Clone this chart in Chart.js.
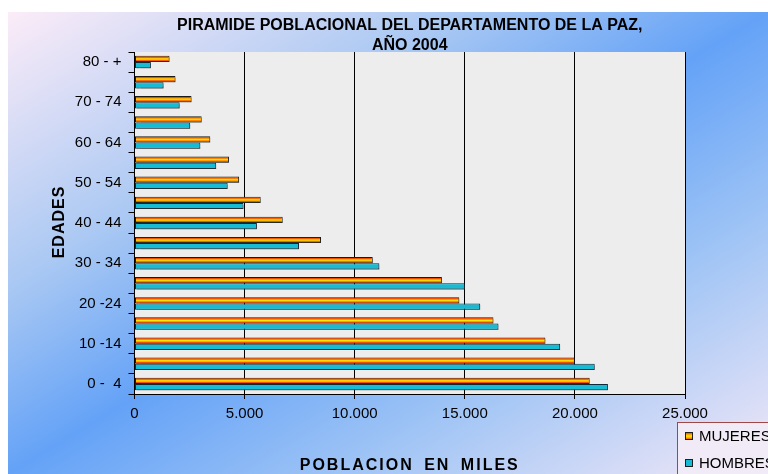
<!DOCTYPE html>
<html>
<head>
<meta charset="utf-8">
<script src="https://cdn.jsdelivr.net/npm/chart.js@4/dist/chart.umd.min.js"></script>
<style>
html,body{margin:0;padding:0;background:#fff;}
canvas{display:block;}
</style>
</head>
<body>
<canvas id="c" width="768" height="474"></canvas>
<script>
// Age groups, youngest first
const categories = ['0 -  4','5 - 9','10 -14','15 - 19','20 -24','25 - 29','30 - 34','35 - 39','40 - 44','45 - 49','50 - 54','55 - 59','60 - 64','65 - 69','70 - 74','75 - 79','80 - +'];
const mujeres = [20670, 19990, 18660, 16300, 14750, 13960, 10820, 8470, 6730, 5730, 4750, 4290, 3440, 3050, 2590, 1860, 1590];
const hombres = [21500, 20900, 19330, 16530, 15700, 15000, 11120, 7470, 5560, 4950, 4230, 3710, 2990, 2530, 2050, 1320, 745];
const seriesNames = ['MUJERES', 'HOMBRES'];
const titleLines = ['PIRAMIDE POBLACIONAL DEL DEPARTAMENTO DE LA PAZ,', 'AÑO 2004'];
const xTitle = 'POBLACION EN MILES';
const yTitle = 'EDADES';
const xMax = 25000, xStep = 5000;

const FONT = "'Liberation Sans', Arial, sans-serif";
const W = 768, H = 474;

// top-to-bottom order for the category axis
const labelsTB = categories.slice().reverse();
const mujTB = mujeres.slice().reverse();
const homTB = hombres.slice().reverse();

function fireGradient(ctx, top, h) {
  const g = ctx.createLinearGradient(0, top, 0, top + h);
  g.addColorStop(0, '#e81800');
  g.addColorStop(0.3, '#ff9a00');
  g.addColorStop(0.5, '#ffee00');
  g.addColorStop(0.75, '#ff9a00');
  g.addColorStop(1, '#e81800');
  return g;
}

const bgPlugin = {
  id: 'bg',
  beforeDraw(chart) {
    const ctx = chart.ctx;
    ctx.save();
    ctx.fillStyle = '#ffffff';
    ctx.fillRect(0, 0, W, H);
    const x0 = 8, y0 = 12, x1 = W, y1 = H;
    const cx = (x0 + x1) / 2, cy = (y0 + y1) / 2;
    const w = x1 - x0, h = y1 - y0;
    const n = Math.hypot(w, h);
    const ux = h / n, uy = w / n;
    const half = (w / 2 * ux + h / 2 * uy);
    const g = ctx.createLinearGradient(cx - ux * half, cy - uy * half, cx + ux * half, cy + uy * half);
    g.addColorStop(0, '#fcecf8');
    g.addColorStop(0.3, '#a9c8f3');
    g.addColorStop(0.5, '#64a2f7');
    g.addColorStop(0.72, '#9fc4f5');
    g.addColorStop(1, '#f2e8f7');
    ctx.fillStyle = g;
    ctx.fillRect(x0, y0, w, h);
    const a = chart.chartArea;
    ctx.fillStyle = '#ededed';
    ctx.fillRect(a.left, a.top, a.right - a.left, a.bottom - a.top);
    ctx.restore();
  },
  beforeDatasetsDraw(chart) {
    const ctx = chart.ctx;
    ctx.save();
    ctx.shadowColor = 'rgba(60,60,60,0.45)';
    ctx.shadowOffsetX = 2;
    ctx.shadowOffsetY = 2;
    ctx.shadowBlur = 1;
  },
  afterDatasetsDraw(chart) {
    const ctx = chart.ctx;
    ctx.restore();
    // striped fill of the first series
    const meta = chart.getDatasetMeta(0);
    ctx.save();
    meta.data.forEach(el => {
      const p = el.getProps(['x', 'y', 'base', 'height'], true);
      const left = Math.min(p.x, p.base), right = Math.max(p.x, p.base);
      const top = p.y - p.height / 2;
      ctx.fillStyle = fireGradient(ctx, top + 1, p.height - 2);
      ctx.fillRect(left + 1, top + 1, right - left - 2, p.height - 2);
    });
    ctx.restore();
  },
  afterDraw(chart) {
    const ctx = chart.ctx;
    const a = chart.chartArea;
    ctx.save();
    // axis titles
    ctx.fillStyle = '#000';
    ctx.font = 'bold 16px ' + FONT;
    ctx.textAlign = 'center';
    ctx.textBaseline = 'middle';
    try { ctx.letterSpacing = '2px'; ctx.wordSpacing = '4px'; } catch (e) {}
    ctx.fillText(xTitle, (a.left + a.right) / 2, 466);
    try { ctx.letterSpacing = '1px'; ctx.wordSpacing = '0px'; } catch (e) {}
    ctx.save();
    ctx.translate(60, (a.top + a.bottom) / 2 - 1);
    ctx.rotate(-Math.PI / 2);
    ctx.fillText(yTitle, 0, 0);
    ctx.restore();
    try { ctx.letterSpacing = '0px'; } catch (e) {}
    // legend box
    const lx = 677.5, ly = 422.5;
    ctx.fillStyle = '#f1ebf7';
    ctx.fillRect(lx, ly, 120, 60);
    ctx.strokeStyle = '#a04848';
    ctx.lineWidth = 1;
    ctx.strokeRect(lx, ly, 120, 60);
    ctx.font = '15px ' + FONT;
    ctx.textAlign = 'left';
    ctx.textBaseline = 'middle';
    const rows = [436, 463];
    chart.data.datasets.forEach((ds, i) => {
      const sy = rows[i] - 4;
      ctx.fillStyle = i === 0 ? fireGradient(ctx, sy, 8) : ds.backgroundColor;
      ctx.fillRect(685, sy, 8, 8);
      ctx.strokeStyle = '#202020';
      ctx.strokeRect(685.5, sy + 0.5, 7, 7);
      ctx.fillStyle = '#000';
      ctx.fillText(ds.label, 699, rows[i] + 1);
    });
    ctx.restore();
  }
};

new Chart(document.getElementById('c'), {
  type: 'bar',
  data: {
    labels: labelsTB,
    datasets: [
      { label: seriesNames[0], data: mujTB, backgroundColor: '#ffa000', borderColor: '#1a1a1a', borderWidth: 1, borderSkipped: false },
      { label: seriesNames[1], data: homTB, backgroundColor: '#16bcd4', borderColor: '#10283a', borderWidth: 1, borderSkipped: false }
    ]
  },
  options: {
    indexAxis: 'y',
    responsive: false,
    animation: false,
    devicePixelRatio: 1,
    categoryPercentage: 0.62,
    barPercentage: 1.0,
    layout: { padding: { left: 52, right: 83, top: 0, bottom: 0 } },
    plugins: {
      legend: { display: false },
      tooltip: { enabled: false },
      title: {
        display: true,
        fullSize: false,
        text: titleLines,
        color: '#000',
        font: { family: FONT, size: 16, weight: 'bold', lineHeight: '20px' },
        padding: { top: 15.5, bottom: -3.5 }
      }
    },
    scales: {
      x: {
        type: 'linear',
        min: 0, max: xMax,
        afterFit(s) { s.height = 80; },
        ticks: {
          stepSize: xStep,
          color: '#000',
          padding: 6,
          font: { family: FONT, size: 15 },
          callback: v => String(v).replace(/\B(?=(\d{3})+(?!\d))/g, '.')
        },
        grid: { color: '#000', lineWidth: 1, tickLength: 5, drawOnChartArea: true },
        border: { display: true, color: '#000', width: 1 },
        title: { display: false }
      },
      y: {
        type: 'category',
        afterFit(s) { s.width = 134.5 - 52; },
        ticks: {
          autoSkip: false,
          color: '#000',
          padding: 7,
          font: { family: FONT, size: 15 },
          callback: function (v, i) { return i % 2 === 0 ? this.getLabelForValue(v) : ''; }
        },
        grid: { color: '#000', lineWidth: 1, tickLength: 6, drawOnChartArea: false, offset: true },
        border: { display: true, color: '#000', width: 1 },
        title: { display: false }
      }
    }
  },
  plugins: [bgPlugin]
});
</script>
</body>
</html>
